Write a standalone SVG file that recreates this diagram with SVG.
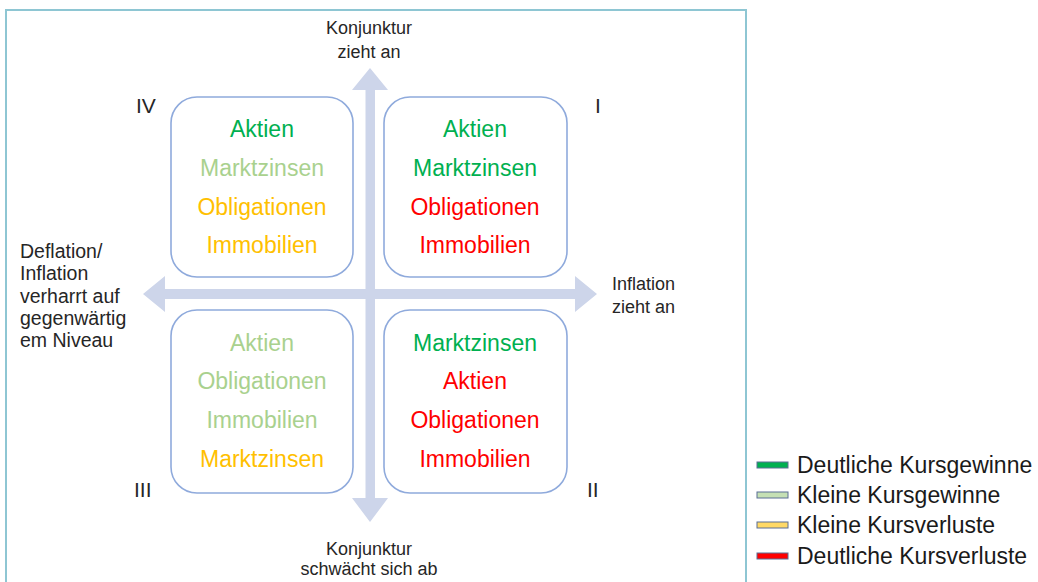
<svg xmlns="http://www.w3.org/2000/svg" width="1038" height="582" viewBox="0 0 1038 582">
<style>
.lbl{font-family:"Liberation Sans",Arial,sans-serif;font-size:18px;fill:#262626}
.lft{font-size:19.5px}
.num{font-family:"Liberation Sans",Arial,sans-serif;font-size:21px;fill:#262626}
.it{font-family:"Liberation Sans",Arial,sans-serif;font-size:23px;text-anchor:middle}
.g{fill:#00b050}.lg{fill:#a9d18e}.y{fill:#ffc000}.r{fill:#ff0000}
.box{fill:#ffffff;stroke:#8faadc;stroke-width:1.6}
.arr{fill:#cdd5ea}
.leg{font-family:"Liberation Sans",Arial,sans-serif;font-size:23px;fill:#1a1a1a}
.sw{stroke:#5a6f95;stroke-width:1}
</style>
<rect width="1038" height="582" fill="#ffffff"/>
<rect x="6" y="10" width="740" height="600" fill="none" stroke="#8ec6d3" stroke-width="2"/>
<g id="connectors">
<polygon class="arr" points="370,68 388,90 375,90 375,498 388,498 370,522 352,498 365.5,498 365.5,90 352,90"/>
<polygon class="arr" points="143,294 165,276 165,289 575,289 575,276 597,294 575,312 575,299 165,299 165,312"/>
</g>
<g id="label-top"><text class="lbl" x="369" y="34" text-anchor="middle">Konjunktur</text><text class="lbl" x="369" y="58" text-anchor="middle">zieht an</text></g>
<g id="label-bottom"><text class="lbl" x="369" y="555" text-anchor="middle">Konjunktur</text><text class="lbl" x="369" y="575" text-anchor="middle">schwächt sich ab</text></g>
<g id="label-left">
<text class="lbl lft" x="20" y="258">Deflation/</text>
<text class="lbl lft" x="20" y="280">Inflation</text>
<text class="lbl lft" x="20" y="303">verharrt auf</text>
<text class="lbl lft" x="20" y="325">gegenwärtig</text>
<text class="lbl lft" x="20" y="347">em Niveau</text>
</g>
<g id="label-right"><text class="lbl" x="612" y="290">Inflation</text><text class="lbl" x="612" y="313">zieht an</text></g>
<g id="num-IV"><text class="num" x="136" y="113">IV</text></g>
<g id="num-I"><text class="num" x="595" y="113">I</text></g>
<g id="num-III"><text class="num" x="134" y="497">III</text></g>
<g id="num-II"><text class="num" x="587" y="497">II</text></g>
<g id="box-IV">
<rect class="box" x="171" y="97" width="182" height="180" rx="26"/>
<text class="it g" x="262" y="137">Aktien</text>
<text class="it lg" x="262" y="176">Marktzinsen</text>
<text class="it y" x="262" y="215">Obligationen</text>
<text class="it y" x="262" y="253">Immobilien</text>
</g>
<g id="box-I">
<rect class="box" x="384" y="97" width="183" height="180" rx="26"/>
<text class="it g" x="475" y="137">Aktien</text>
<text class="it g" x="475" y="176">Marktzinsen</text>
<text class="it r" x="475" y="215">Obligationen</text>
<text class="it r" x="475" y="253">Immobilien</text>
</g>
<g id="box-III">
<rect class="box" x="171" y="310" width="182" height="183" rx="26"/>
<text class="it lg" x="262" y="351">Aktien</text>
<text class="it lg" x="262" y="389">Obligationen</text>
<text class="it lg" x="262" y="428">Immobilien</text>
<text class="it y" x="262" y="467">Marktzinsen</text>
</g>
<g id="box-II">
<rect class="box" x="384" y="310" width="183" height="183" rx="26"/>
<text class="it g" x="475" y="351">Marktzinsen</text>
<text class="it r" x="475" y="389">Aktien</text>
<text class="it r" x="475" y="428">Obligationen</text>
<text class="it r" x="475" y="467">Immobilien</text>
</g>
<g id="legend">
<rect class="sw" x="757" y="462" width="31" height="6" fill="#00b050"/>
<text class="leg" x="797" y="473">Deutliche Kursgewinne</text>
<rect class="sw" x="757" y="492" width="31" height="6" fill="#c5e0b4"/>
<text class="leg" x="797" y="503">Kleine Kursgewinne</text>
<rect class="sw" x="757" y="522" width="31" height="6" fill="#ffd966"/>
<text class="leg" x="797" y="533">Kleine Kursverluste</text>
<rect class="sw" x="757" y="553" width="31" height="6" fill="#ff0000"/>
<text class="leg" x="797" y="564">Deutliche Kursverluste</text>
</g>
</svg>
